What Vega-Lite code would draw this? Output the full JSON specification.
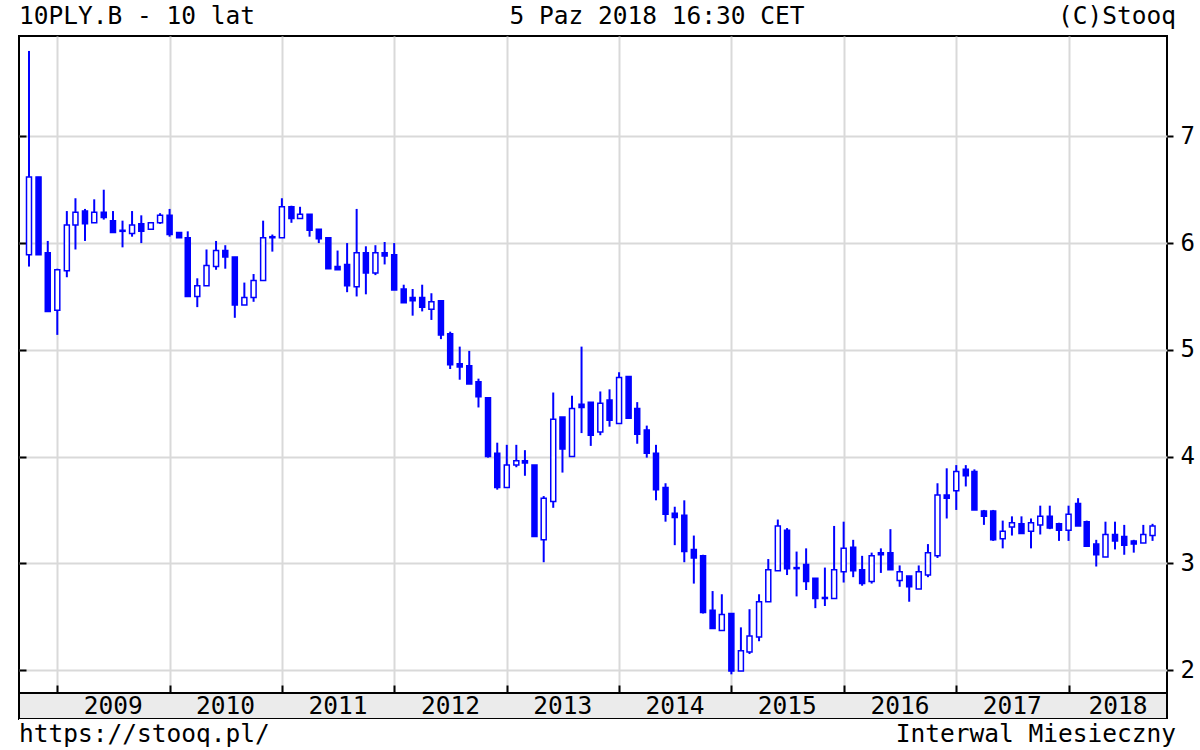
{
"$schema": "https://vega.github.io/schema/vega-lite/v6.json",
"background": "white",
"padding": {"left": 17, "top": 1, "right": 0, "bottom": 0},
"spacing": 0,
"bounds": "flush",
"resolve": {"scale": {"x": "independent", "y": "independent"}},
"config": {
  "font": "DejaVu Sans Mono",
  "text": {"font": "DejaVu Sans Mono", "fontSize": 24.5, "color": "black"},
  "view": {"stroke": "black", "strokeWidth": 2}
},
"datasets": {
  "candles": [
    {"d":"2008-10-01","o":5.89,"h":7.80,"l":5.78,"c":6.62},
    {"d":"2008-11-01","o":6.62,"h":6.62,"l":5.89,"c":5.89},
    {"d":"2008-12-01","o":5.91,"h":6.02,"l":5.36,"c":5.36},
    {"d":"2009-01-01","o":5.37,"h":5.76,"l":5.14,"c":5.75},
    {"d":"2009-02-01","o":5.74,"h":6.30,"l":5.68,"c":6.17},
    {"d":"2009-03-01","o":6.17,"h":6.42,"l":5.94,"c":6.29},
    {"d":"2009-04-01","o":6.30,"h":6.32,"l":6.02,"c":6.18},
    {"d":"2009-05-01","o":6.19,"h":6.41,"l":6.19,"c":6.29},
    {"d":"2009-06-01","o":6.29,"h":6.50,"l":6.22,"c":6.24},
    {"d":"2009-07-01","o":6.21,"h":6.30,"l":6.10,"c":6.10},
    {"d":"2009-08-01","o":6.12,"h":6.21,"l":5.96,"c":6.11},
    {"d":"2009-09-01","o":6.09,"h":6.30,"l":6.06,"c":6.17},
    {"d":"2009-10-01","o":6.18,"h":6.26,"l":6.00,"c":6.11},
    {"d":"2009-11-01","o":6.13,"h":6.19,"l":6.13,"c":6.19},
    {"d":"2009-12-01","o":6.19,"h":6.28,"l":6.18,"c":6.26},
    {"d":"2010-01-01","o":6.26,"h":6.32,"l":6.06,"c":6.08},
    {"d":"2010-02-01","o":6.10,"h":6.10,"l":6.05,"c":6.05},
    {"d":"2010-03-01","o":6.05,"h":6.11,"l":5.50,"c":5.50},
    {"d":"2010-04-01","o":5.50,"h":5.67,"l":5.40,"c":5.60},
    {"d":"2010-05-01","o":5.60,"h":5.94,"l":5.60,"c":5.79},
    {"d":"2010-06-01","o":5.78,"h":6.02,"l":5.75,"c":5.93},
    {"d":"2010-07-01","o":5.93,"h":5.98,"l":5.76,"c":5.87},
    {"d":"2010-08-01","o":5.87,"h":5.87,"l":5.30,"c":5.42},
    {"d":"2010-09-01","o":5.42,"h":5.63,"l":5.42,"c":5.49},
    {"d":"2010-10-01","o":5.49,"h":5.71,"l":5.45,"c":5.65},
    {"d":"2010-11-01","o":5.65,"h":6.21,"l":5.65,"c":6.05},
    {"d":"2010-12-01","o":6.05,"h":6.08,"l":5.92,"c":6.06},
    {"d":"2011-01-01","o":6.05,"h":6.42,"l":6.05,"c":6.34},
    {"d":"2011-02-01","o":6.34,"h":6.35,"l":6.19,"c":6.23},
    {"d":"2011-03-01","o":6.23,"h":6.34,"l":6.23,"c":6.27},
    {"d":"2011-04-01","o":6.27,"h":6.27,"l":6.06,"c":6.12},
    {"d":"2011-05-01","o":6.13,"h":6.13,"l":6.00,"c":6.04},
    {"d":"2011-06-01","o":6.05,"h":6.05,"l":5.76,"c":5.76},
    {"d":"2011-07-01","o":5.78,"h":5.93,"l":5.75,"c":5.75},
    {"d":"2011-08-01","o":5.80,"h":6.00,"l":5.54,"c":5.60},
    {"d":"2011-09-01","o":5.59,"h":6.32,"l":5.50,"c":5.91},
    {"d":"2011-10-01","o":5.91,"h":5.97,"l":5.52,"c":5.72},
    {"d":"2011-11-01","o":5.72,"h":5.98,"l":5.70,"c":5.91},
    {"d":"2011-12-01","o":5.91,"h":6.01,"l":5.80,"c":5.88},
    {"d":"2012-01-01","o":5.89,"h":6.00,"l":5.56,"c":5.56},
    {"d":"2012-02-01","o":5.57,"h":5.61,"l":5.44,"c":5.44},
    {"d":"2012-03-01","o":5.49,"h":5.57,"l":5.32,"c":5.46},
    {"d":"2012-04-01","o":5.49,"h":5.61,"l":5.36,"c":5.40},
    {"d":"2012-05-01","o":5.38,"h":5.53,"l":5.28,"c":5.45},
    {"d":"2012-06-01","o":5.46,"h":5.46,"l":5.10,"c":5.14},
    {"d":"2012-07-01","o":5.15,"h":5.17,"l":4.82,"c":4.86},
    {"d":"2012-08-01","o":4.87,"h":5.03,"l":4.72,"c":4.84},
    {"d":"2012-09-01","o":4.85,"h":4.99,"l":4.68,"c":4.68},
    {"d":"2012-10-01","o":4.70,"h":4.73,"l":4.46,"c":4.56},
    {"d":"2012-11-01","o":4.55,"h":4.55,"l":3.99,"c":4.00},
    {"d":"2012-12-01","o":4.03,"h":4.13,"l":3.69,"c":3.71},
    {"d":"2013-01-01","o":3.71,"h":4.11,"l":3.71,"c":3.92},
    {"d":"2013-02-01","o":3.92,"h":4.11,"l":3.90,"c":3.96},
    {"d":"2013-03-01","o":3.96,"h":4.06,"l":3.82,"c":3.94},
    {"d":"2013-04-01","o":3.92,"h":3.92,"l":3.25,"c":3.25},
    {"d":"2013-05-01","o":3.22,"h":3.63,"l":3.01,"c":3.61},
    {"d":"2013-06-01","o":3.58,"h":4.60,"l":3.52,"c":4.35},
    {"d":"2013-07-01","o":4.37,"h":4.37,"l":3.85,"c":4.07},
    {"d":"2013-08-01","o":4.00,"h":4.57,"l":4.00,"c":4.45},
    {"d":"2013-09-01","o":4.49,"h":5.03,"l":4.22,"c":4.46},
    {"d":"2013-10-01","o":4.51,"h":4.51,"l":4.10,"c":4.20},
    {"d":"2013-11-01","o":4.23,"h":4.61,"l":4.20,"c":4.50},
    {"d":"2013-12-01","o":4.53,"h":4.63,"l":4.28,"c":4.34},
    {"d":"2014-01-01","o":4.31,"h":4.79,"l":4.31,"c":4.74},
    {"d":"2014-02-01","o":4.75,"h":4.75,"l":4.36,"c":4.36},
    {"d":"2014-03-01","o":4.45,"h":4.51,"l":4.12,"c":4.21},
    {"d":"2014-04-01","o":4.25,"h":4.29,"l":3.99,"c":4.03},
    {"d":"2014-05-01","o":4.03,"h":4.11,"l":3.59,"c":3.69},
    {"d":"2014-06-01","o":3.71,"h":3.75,"l":3.39,"c":3.46},
    {"d":"2014-07-01","o":3.47,"h":3.53,"l":3.17,"c":3.43},
    {"d":"2014-08-01","o":3.45,"h":3.59,"l":3.01,"c":3.11},
    {"d":"2014-09-01","o":3.13,"h":3.26,"l":2.81,"c":3.05},
    {"d":"2014-10-01","o":3.07,"h":3.08,"l":2.53,"c":2.54},
    {"d":"2014-11-01","o":2.56,"h":2.74,"l":2.39,"c":2.39},
    {"d":"2014-12-01","o":2.37,"h":2.71,"l":2.37,"c":2.52},
    {"d":"2015-01-01","o":2.53,"h":2.53,"l":1.96,"c":1.99},
    {"d":"2015-02-01","o":1.99,"h":2.40,"l":1.99,"c":2.18},
    {"d":"2015-03-01","o":2.17,"h":2.57,"l":2.15,"c":2.32},
    {"d":"2015-04-01","o":2.31,"h":2.71,"l":2.27,"c":2.64},
    {"d":"2015-05-01","o":2.64,"h":3.04,"l":2.64,"c":2.94},
    {"d":"2015-06-01","o":2.93,"h":3.41,"l":2.93,"c":3.35},
    {"d":"2015-07-01","o":3.31,"h":3.33,"l":2.89,"c":2.95},
    {"d":"2015-08-01","o":2.96,"h":3.11,"l":2.69,"c":2.95},
    {"d":"2015-09-01","o":2.99,"h":3.14,"l":2.75,"c":2.83},
    {"d":"2015-10-01","o":2.86,"h":2.86,"l":2.58,"c":2.67},
    {"d":"2015-11-01","o":2.67,"h":2.96,"l":2.60,"c":2.68},
    {"d":"2015-12-01","o":2.67,"h":3.35,"l":2.67,"c":2.94},
    {"d":"2016-01-01","o":2.92,"h":3.39,"l":2.82,"c":3.14},
    {"d":"2016-02-01","o":3.15,"h":3.22,"l":2.87,"c":2.93},
    {"d":"2016-03-01","o":2.94,"h":3.07,"l":2.79,"c":2.81},
    {"d":"2016-04-01","o":2.83,"h":3.10,"l":2.81,"c":3.07},
    {"d":"2016-05-01","o":3.10,"h":3.14,"l":2.91,"c":3.08},
    {"d":"2016-06-01","o":3.10,"h":3.32,"l":2.94,"c":2.94},
    {"d":"2016-07-01","o":2.84,"h":2.98,"l":2.78,"c":2.92},
    {"d":"2016-08-01","o":2.88,"h":2.88,"l":2.64,"c":2.78},
    {"d":"2016-09-01","o":2.76,"h":2.98,"l":2.76,"c":2.92},
    {"d":"2016-10-01","o":2.89,"h":3.18,"l":2.87,"c":3.10},
    {"d":"2016-11-01","o":3.07,"h":3.75,"l":3.05,"c":3.64},
    {"d":"2016-12-01","o":3.64,"h":3.89,"l":3.42,"c":3.61},
    {"d":"2017-01-01","o":3.68,"h":3.92,"l":3.50,"c":3.86},
    {"d":"2017-02-01","o":3.88,"h":3.92,"l":3.72,"c":3.82},
    {"d":"2017-03-01","o":3.86,"h":3.88,"l":3.50,"c":3.50},
    {"d":"2017-04-01","o":3.49,"h":3.50,"l":3.36,"c":3.44},
    {"d":"2017-05-01","o":3.49,"h":3.50,"l":3.21,"c":3.22},
    {"d":"2017-06-01","o":3.23,"h":3.40,"l":3.14,"c":3.30},
    {"d":"2017-07-01","o":3.34,"h":3.44,"l":3.26,"c":3.38},
    {"d":"2017-08-01","o":3.37,"h":3.44,"l":3.28,"c":3.28},
    {"d":"2017-09-01","o":3.30,"h":3.42,"l":3.14,"c":3.38},
    {"d":"2017-10-01","o":3.36,"h":3.54,"l":3.27,"c":3.44},
    {"d":"2017-11-01","o":3.44,"h":3.54,"l":3.32,"c":3.33},
    {"d":"2017-12-01","o":3.37,"h":3.38,"l":3.21,"c":3.31},
    {"d":"2018-01-01","o":3.31,"h":3.54,"l":3.21,"c":3.46},
    {"d":"2018-02-01","o":3.56,"h":3.61,"l":3.35,"c":3.35},
    {"d":"2018-03-01","o":3.39,"h":3.40,"l":3.16,"c":3.16},
    {"d":"2018-04-01","o":3.18,"h":3.22,"l":2.97,"c":3.08},
    {"d":"2018-05-01","o":3.06,"h":3.39,"l":3.06,"c":3.27},
    {"d":"2018-06-01","o":3.27,"h":3.39,"l":3.13,"c":3.21},
    {"d":"2018-07-01","o":3.25,"h":3.36,"l":3.08,"c":3.17},
    {"d":"2018-08-01","o":3.21,"h":3.22,"l":3.10,"c":3.18},
    {"d":"2018-09-01","o":3.19,"h":3.36,"l":3.19,"c":3.27},
    {"d":"2018-10-01","o":3.26,"h":3.37,"l":3.21,"c":3.35}
  ],
  "years": [
    {"d":"2009-07-02","label":"2009"},
    {"d":"2010-07-02","label":"2010"},
    {"d":"2011-07-02","label":"2011"},
    {"d":"2012-07-02","label":"2012"},
    {"d":"2013-07-02","label":"2013"},
    {"d":"2014-07-02","label":"2014"},
    {"d":"2015-07-02","label":"2015"},
    {"d":"2016-07-02","label":"2016"},
    {"d":"2017-07-02","label":"2017"},
    {"d":"2018-06-11","label":"2018"}
  ]
},
"vconcat": [
  {
    "width": 1157, "height": 35,
    "view": {"stroke": null, "fill": "white"},
    "layer": [
      {"data": {"values": [{"t": "10PLY.B - 10 lat"}]},
       "mark": {"type": "text", "align": "left", "baseline": "alphabetic", "dy": 5.5},
       "encoding": {"x": {"datum": 0, "type": "quantitative", "scale": {"domain": [0, 1]}, "axis": null}, "text": {"field": "t"}}},
      {"data": {"values": [{"t": "5 Paz 2018 16:30 CET"}]},
       "mark": {"type": "text", "align": "center", "baseline": "alphabetic", "dy": 5.5},
       "encoding": {"x": {"datum": 0.5514, "type": "quantitative", "scale": {"domain": [0, 1]}, "axis": null}, "text": {"field": "t"}}},
      {"data": {"values": [{"t": "(C)Stooq"}]},
       "mark": {"type": "text", "align": "right", "baseline": "alphabetic", "dy": 5.5},
       "encoding": {"x": {"datum": 1, "type": "quantitative", "scale": {"domain": [0, 1]}, "axis": null}, "text": {"field": "t"}}}
    ]
  },
  {
    "width": 1148, "height": 657,
    "data": {"name": "candles"},
    "encoding": {
      "x": {"field": "d", "type": "temporal",
        "scale": {"type": "utc", "nice": false, "padding": 0, "domain": [{"year": 2008, "month": 8, "date": 29, "hours": 12, "utc": true}, {"year": 2018, "month": 11, "date": 17, "utc": true}]},
        "axis": {"orient": "bottom", "title": null, "labels": false, "domain": false,
          "values": [{"year":2009,"month":1,"date":1,"utc":true},{"year":2010,"month":1,"date":1,"utc":true},{"year":2011,"month":1,"date":1,"utc":true},{"year":2012,"month":1,"date":1,"utc":true},{"year":2013,"month":1,"date":1,"utc":true},{"year":2014,"month":1,"date":1,"utc":true},{"year":2015,"month":1,"date":1,"utc":true},{"year":2016,"month":1,"date":1,"utc":true},{"year":2017,"month":1,"date":1,"utc":true},{"year":2018,"month":1,"date":1,"utc":true}],
          "grid": true, "gridColor": "#d9d9d9", "gridWidth": 2,
          "ticks": true, "tickSize": -8, "tickColor": "black", "tickWidth": 2,
          "minExtent": 0, "maxExtent": 0}}
    },
    "layer": [
      {"mark": {"type": "rule", "color": "#0000ff", "strokeWidth": 2},
       "encoding": {
         "y": {"field": "l", "type": "quantitative", "scale": {"domain": [1.785, 7.94], "nice": false, "zero": false},
           "axis": {"orient": "right", "title": null, "values": [2, 3, 4, 5, 6, 7], "grid": true, "gridColor": "#d9d9d9", "gridWidth": 2,
             "domain": false, "ticks": true, "tickSize": 6, "tickColor": "black", "tickWidth": 2,
             "labelFont": "DejaVu Sans Mono", "labelFontSize": 24, "labelColor": "black", "labelPadding": 7, "labelBaseline": "middle"}},
         "y2": {"field": "h"}}},
      {"mark": {"type": "bar", "size": 5, "stroke": "#0000ff", "strokeWidth": 1.5},
       "encoding": {
         "y": {"field": "o", "type": "quantitative", "scale": {"domain": [1.785, 7.94], "nice": false, "zero": false},
           "axis": {"orient": "left", "title": null, "values": [2, 3, 4, 5, 6, 7], "grid": false, "labels": false, "domain": false,
             "ticks": true, "tickSize": -7, "tickColor": "black", "tickWidth": 2, "minExtent": 0, "maxExtent": 0}},
         "y2": {"field": "c"},
         "fill": {"condition": {"test": "datum.c > datum.o", "value": "white"}, "value": "#0000ff"}}}
    ],
    "resolve": {"axis": {"y": "independent"}}
  },
  {
    "width": 1148, "height": 26,
    "view": {"fill": "#ebebeb", "stroke": "black", "strokeWidth": 2},
    "data": {"name": "years"},
    "mark": {"type": "text", "align": "center", "baseline": "alphabetic", "dy": 8},
    "encoding": {
      "x": {"field": "d", "type": "temporal",
        "scale": {"type": "utc", "nice": false, "padding": 0, "domain": [{"year": 2008, "month": 8, "date": 29, "hours": 12, "utc": true}, {"year": 2018, "month": 11, "date": 17, "utc": true}]},
        "axis": null},
      "text": {"field": "label"}}
  },
  {
    "width": 1157, "height": 31,
    "view": {"stroke": null, "fill": "white"},
    "layer": [
      {"data": {"values": [{"t": "https://stooq.pl/"}]},
       "mark": {"type": "text", "align": "left", "baseline": "alphabetic", "dy": 7.5},
       "encoding": {"x": {"datum": 0, "type": "quantitative", "scale": {"domain": [0, 1]}, "axis": null}, "text": {"field": "t"}}},
      {"data": {"values": [{"t": "Interwal Miesieczny"}]},
       "mark": {"type": "text", "align": "right", "baseline": "alphabetic", "dy": 7.5},
       "encoding": {"x": {"datum": 1, "type": "quantitative", "scale": {"domain": [0, 1]}, "axis": null}, "text": {"field": "t"}}}
    ]
  }
]
}
